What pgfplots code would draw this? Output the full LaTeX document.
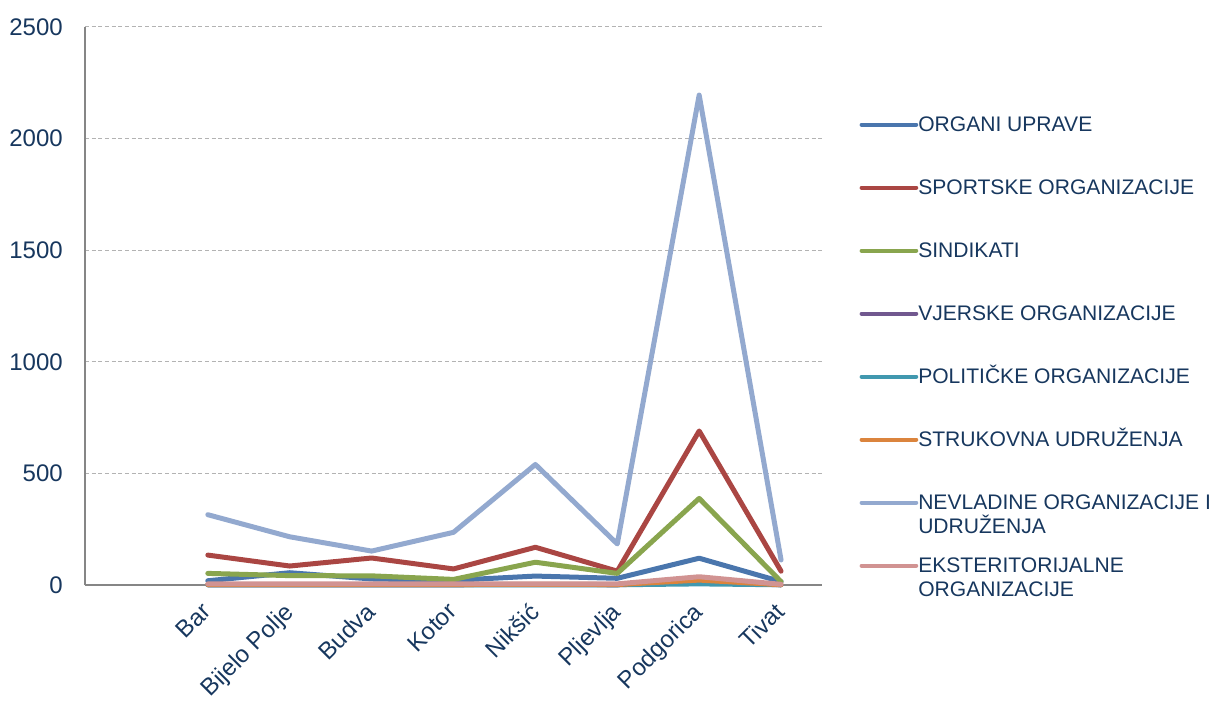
\documentclass[border=0pt]{standalone}
\usepackage{fontspec}
\setmainfont{Liberation Sans}
\usepackage{pgfplots}
\pgfplotsset{compat=1.18}
\definecolor{txt}{HTML}{17375E}
\definecolor{axgray}{HTML}{868686}
\definecolor{gridgray}{HTML}{B3B3B3}
\definecolor{cA}{HTML}{4A76AD}
\definecolor{cB}{HTML}{AA4643}
\definecolor{cC}{HTML}{89A54E}
\definecolor{cD}{HTML}{71588F}
\definecolor{cE}{HTML}{4198AF}
\definecolor{cF}{HTML}{DB843D}
\definecolor{cG}{HTML}{93A9CF}
\definecolor{cH}{HTML}{D19392}
\begin{document}
\begin{tikzpicture}
\begin{axis}[
  scale only axis,
  width=552.75pt, height=418.5pt,
  xmin=-1.5, xmax=7.5, ymin=0, ymax=2500,
  clip=false,
  axis x line*=bottom, axis y line*=left,
  axis line style={draw=axgray, line width=1.5pt},
  xtick={0,...,7},
  xticklabels={Bar,Bijelo Polje,Budva,Kotor,Nikšić,Pljevlja,Podgorica,Tivat},
  ytick={0,500,...,2500},
  major tick length=0pt,
  ymajorgrids,
  major grid style={draw=gridgray, line width=0.75pt, dash pattern=on 3pt off 2pt},
  /pgf/number format/assume math mode=true,
  /pgf/number format/1000 sep={},
  yticklabel style={font=\fontsize{18}{21}\selectfont, text=txt, inner sep=0pt, anchor=east, xshift=-16.5pt},
  xticklabel style={font=\fontsize{18}{21}\selectfont, text=txt, inner sep=0pt, rotate=45, anchor=north east, xshift=-12.3pt, yshift=-4.6pt},
  every axis plot/.append style={line width=3.75pt, line join=round, line cap=round},
  legend image code/.code={\draw[#1, line width=3pt, line cap=round] (0pt,5.5pt) -- (41pt,5.5pt);},
  legend style={draw=none, fill=none, inner sep=0pt, row sep=0pt, column sep=0pt,
    at={(1,1)}, anchor=north west, xshift=28pt, yshift=-67pt,
    cells={anchor=base west},
    nodes={font=\fontsize{15.8}{18}\selectfont, text=txt, inner sep=0pt, text height=11.5pt, text depth=35.75pt}},
]
\addplot[cA] coordinates {(0,19) (1,55) (2,27) (3,21) (4,40) (5,30) (6,120) (7,15)};
\addlegendentry{ORGANI UPRAVE}
\addplot[cB] coordinates {(0,134) (1,85) (2,121) (3,72) (4,169) (5,62) (6,690) (7,62)};
\addlegendentry{SPORTSKE ORGANIZACIJE}
\addplot[cC] coordinates {(0,52) (1,42) (2,41) (3,25) (4,102) (5,52) (6,388) (7,15)};
\addlegendentry{SINDIKATI}
\addplot[cD] coordinates {(0,1) (1,1) (2,1) (3,1) (4,2) (5,1) (6,12) (7,1)};
\addlegendentry{VJERSKE ORGANIZACIJE}
\addplot[cE] coordinates {(0,1) (1,1) (2,1) (3,1) (4,1) (5,1) (6,5) (7,1)};
\addlegendentry{POLITIČKE ORGANIZACIJE}
\addplot[cF] coordinates {(0,2) (1,2) (2,2) (3,2) (4,3) (5,2) (6,22) (7,1)};
\addlegendentry{STRUKOVNA UDRUŽENJA}
\addplot[cG] coordinates {(0,315) (1,216) (2,152) (3,236) (4,540) (5,184) (6,2195) (7,112)};
\addlegendentry{\vtop{\hbox{NEVLADINE ORGANIZACIJE I}\hbox{UDRUŽENJA}}}
\addplot[cH] coordinates {(0,5) (1,5) (2,5) (3,5) (4,5) (5,5) (6,37) (7,3)};
\addlegendentry{\vtop{\hbox{EKSTERITORIJALNE}\hbox{ORGANIZACIJE}}}
\end{axis}
\path (-63.75pt,-84pt) rectangle (848.25pt,438.75pt);
\end{tikzpicture}
\end{document}
